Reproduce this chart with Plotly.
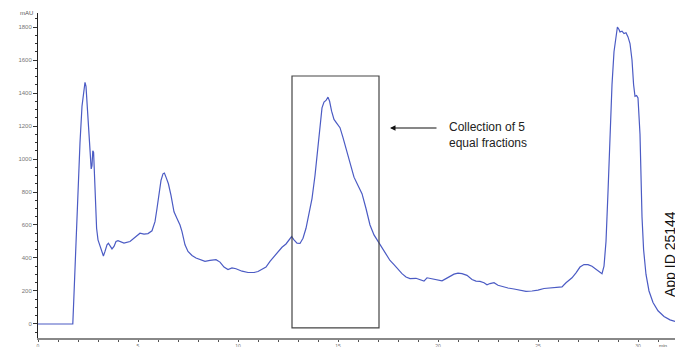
import plotly.graph_objects as go

time_min = [0, 1.74, 1.78, 1.85, 1.95, 2.02, 2.1, 2.2, 2.3, 2.35, 2.4, 2.45, 2.52, 2.6, 2.66, 2.7, 2.74, 2.78,
            2.82, 2.88, 2.93, 3.0, 3.1, 3.2, 3.27, 3.35, 3.45, 3.52, 3.6, 3.7, 3.8, 3.9, 4.0, 4.1, 4.3, 4.6,
            4.9, 5.1, 5.3, 5.5, 5.7, 5.85, 5.95, 6.05, 6.15, 6.25, 6.32, 6.4, 6.52, 6.65, 6.8, 6.95, 7.1, 7.2,
            7.35, 7.5, 7.7, 7.9, 8.1, 8.35, 8.6, 8.9, 9.1, 9.3, 9.5, 9.7, 9.9, 10.2, 10.5, 10.8, 11.0, 11.2,
            11.4, 11.6, 11.8, 12.0, 12.2, 12.4, 12.55, 12.68, 12.8, 12.95, 13.1, 13.25, 13.4, 13.55, 13.7,
            13.85, 14.0, 14.1, 14.2, 14.3, 14.4, 14.5, 14.58, 14.68, 14.8, 14.95, 15.1, 15.25, 15.4, 15.6,
            15.8, 16.0, 16.2, 16.4, 16.6, 16.8, 17.0, 17.2, 17.4, 17.6, 17.8, 18.0, 18.2, 18.4, 18.6, 18.9,
            19.1, 19.3, 19.45, 19.7, 20.0, 20.2, 20.4, 20.6, 20.8, 21.0, 21.2, 21.45, 21.7, 21.9, 22.1, 22.3,
            22.45, 22.6, 22.8, 23.0, 23.2, 23.5, 23.8, 24.1, 24.4, 24.7, 25.0, 25.3, 25.7, 26.0, 26.2, 26.4,
            26.7, 26.9, 27.1, 27.3, 27.5, 27.7, 27.9, 28.1, 28.2, 28.3, 28.4, 28.5, 28.6, 28.7, 28.8, 28.9,
            28.97, 29.05, 29.1, 29.2, 29.3, 29.4, 29.5, 29.6, 29.7, 29.78, 29.85, 29.93, 30.0, 30.1, 30.15,
            30.2, 30.28, 30.4, 30.55, 30.75, 31.0, 31.3, 31.6, 31.85]
absorbance_mau = [0, 0, 120, 340, 600, 850, 1100, 1320, 1440, 1465, 1440, 1350, 1236, 1080, 940, 960, 1050, 1040,
                  930, 750, 580, 510, 470, 425, 412, 440, 480, 490, 470, 455, 470, 500, 505, 500, 490, 500,
                  530, 550, 545, 548, 565, 620, 700, 790, 870, 910, 915, 890, 850, 780, 680, 640, 600, 560,
                  480, 440, 415, 400, 390, 380, 385, 390, 375, 345, 330, 340, 335, 320, 312, 312, 318, 330,
                  345, 380, 410, 440, 465, 485, 510, 530, 510, 490, 488, 520, 580, 660, 760,
                  900, 1080, 1220, 1310, 1345, 1355, 1375, 1350, 1290, 1240, 1215, 1190, 1130, 1060, 980,
                  890, 840, 790, 700, 600, 540, 500, 465, 420, 385, 360, 330, 305, 285, 275, 277,
                  270, 260, 280, 275, 265, 262, 275, 290, 302, 308, 305, 295, 270, 260, 258, 250,
                  238, 245, 250, 235, 228, 218, 212, 205, 198, 200, 205, 215, 218, 220, 225, 250,
                  280, 310, 345, 360, 360, 350, 330, 310, 305, 350, 500, 800, 1150, 1450, 1650, 1760,
                  1800, 1785, 1770, 1775, 1760, 1765, 1740, 1700, 1600, 1450, 1380, 1385, 1370, 1150, 900,
                  650, 450, 300, 200, 130, 80, 45, 25, 15]

y_tick_vals = [0, 200, 400, 600, 800, 1000, 1200, 1400, 1600, 1800]
x_tick_vals = [0, 5, 10, 15, 20, 25, 30]

fraction_window = [12.7, 17.05]
fraction_y = [-24, 1503]

fig = go.Figure()
fig.add_trace(go.Scatter(x=time_min, y=absorbance_mau, mode="lines",
                         line=dict(color="#4b5bc4", width=1.2), hoverinfo="skip"))

fig.add_shape(type="rect", x0=fraction_window[0], x1=fraction_window[1],
              y0=fraction_y[0], y1=fraction_y[1], line=dict(color="#444444", width=1.2))

fig.add_annotation(x=17.6, y=1188, ax=48, ay=0, text="", showarrow=True,
                   arrowhead=2, arrowsize=1, arrowwidth=1.1, arrowcolor="#111111")
fig.add_annotation(x=20.45, y=1145, text="Collection of 5<br>equal fractions", showarrow=False,
                   xanchor="left", align="left",
                   font=dict(family="Liberation Sans, Arial", size=12, color="#222222"))
fig.add_annotation(xref="paper", yref="paper", x=(670 - 38) / 637, y=(338 - 254) / 325,
                   xanchor="center", yanchor="middle",
                   text="App ID 25144", textangle=-90, showarrow=False,
                   font=dict(family="Liberation Sans, Arial", size=14, color="#111111"))
fig.add_annotation(xref="paper", yref="paper", x=-0.005, y=1.0, xanchor="right", yanchor="middle",
                   text="mAU", showarrow=False,
                   font=dict(family="Liberation Sans, Arial", size=6, color="#555555"))
fig.add_annotation(xref="paper", yref="paper", x=(663 - 38) / 637, y=-0.008,
                   xanchor="center", yanchor="top",
                   text="min", showarrow=False,
                   font=dict(family="Liberation Sans, Arial", size=5, color="#555555"))

fig.update_layout(
    width=675, height=347,
    margin=dict(l=38, r=0, t=13, b=9, autoexpand=False),
    paper_bgcolor="white", plot_bgcolor="white",
    showlegend=False,
    font=dict(family="Liberation Sans, Arial", size=6, color="#777777"),
    xaxis=dict(range=[0, 31.85], tickvals=x_tick_vals, showgrid=False, zeroline=False,
               showline=True, linecolor="#888888", linewidth=2,
               ticks="outside", ticklen=2, tickcolor="#555555",
               minor=dict(ticks="outside", ticklen=2, dtick=1, tickcolor="#555555"),
               tickfont=dict(size=5, color="#777777")),
    yaxis=dict(range=[-85, 1885], tickvals=y_tick_vals, showgrid=False, zeroline=False,
               showline=True, linecolor="#222222", linewidth=1,
               ticks="outside", ticklen=4, tickcolor="#333333",
               minor=dict(ticks="outside", ticklen=2, dtick=50, tickcolor="#333333"),
               tickfont=dict(size=6, color="#777777")),
)

fig.write_html("out.html", config={"displayModeBar": False},
               post_script="document.body.style.margin='0px';")
